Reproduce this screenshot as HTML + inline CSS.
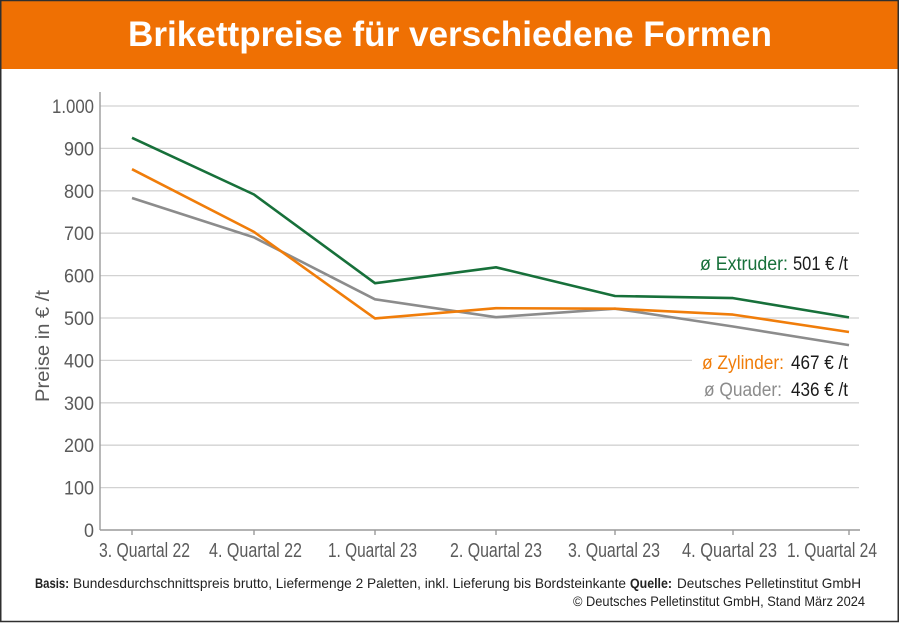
<!DOCTYPE html>
<html><head><meta charset="utf-8"><style>
html,body{margin:0;padding:0;background:#fff;}
svg{display:block;}
text{font-family:"Liberation Sans",sans-serif;}
</style></head><body>
<svg width="900" height="623" viewBox="0 0 900 623" xmlns="http://www.w3.org/2000/svg">
<rect x="0" y="0" width="900" height="623" fill="#fff"/>
<rect x="0" y="0" width="899" height="69" fill="#ef7003"/>
<rect x="0.75" y="0.5" width="897.5" height="621" fill="none" stroke="#2f2f2f" stroke-width="1.5"/>
<text x="128" y="46" font-size="35" font-weight="bold" fill="#fff" textLength="644" lengthAdjust="spacingAndGlyphs">Brikettpreise für verschiedene Formen</text>

<g stroke="#d2d2d2" stroke-width="1.3">
<line x1="100" y1="106" x2="859" y2="106"/>
<line x1="100" y1="148.4" x2="859" y2="148.4"/>
<line x1="100" y1="190.8" x2="859" y2="190.8"/>
<line x1="100" y1="233.2" x2="859" y2="233.2"/>
<line x1="100" y1="275.6" x2="859" y2="275.6"/>
<line x1="100" y1="318" x2="859" y2="318"/>
<line x1="100" y1="360.4" x2="692" y2="360.4"/>
<line x1="100" y1="402.8" x2="859" y2="402.8"/>
<line x1="100" y1="445.2" x2="859" y2="445.2"/>
<line x1="100" y1="487.6" x2="859" y2="487.6"/>
</g>
<g stroke="#9a9a9a" stroke-width="1.4">
<line x1="100" y1="92" x2="100" y2="530"/>
<line x1="100" y1="530" x2="860" y2="530"/>
<line x1="132" y1="530" x2="132" y2="535"/>
<line x1="254" y1="530" x2="254" y2="535"/>
<line x1="375" y1="530" x2="375" y2="535"/>
<line x1="496" y1="530" x2="496" y2="535"/>
<line x1="615" y1="530" x2="615" y2="535"/>
<line x1="733" y1="530" x2="733" y2="535"/>
<line x1="849" y1="530" x2="849" y2="535"/>
</g>

<g font-size="19" fill="#5a5a5a">
<text x="52" y="113" textLength="42" lengthAdjust="spacingAndGlyphs">1.000</text>
<text x="64" y="155.4" textLength="30" lengthAdjust="spacingAndGlyphs">900</text>
<text x="64" y="197.8" textLength="30" lengthAdjust="spacingAndGlyphs">800</text>
<text x="64" y="240.2" textLength="30" lengthAdjust="spacingAndGlyphs">700</text>
<text x="64" y="282.6" textLength="30" lengthAdjust="spacingAndGlyphs">600</text>
<text x="64" y="325" textLength="30" lengthAdjust="spacingAndGlyphs">500</text>
<text x="64" y="367.4" textLength="30" lengthAdjust="spacingAndGlyphs">400</text>
<text x="64" y="409.8" textLength="30" lengthAdjust="spacingAndGlyphs">300</text>
<text x="64" y="452.2" textLength="30" lengthAdjust="spacingAndGlyphs">200</text>
<text x="64" y="494.6" textLength="30" lengthAdjust="spacingAndGlyphs">100</text>
<text x="84" y="537" textLength="10" lengthAdjust="spacingAndGlyphs">0</text>
</g>
<text transform="translate(49,346) rotate(-90)" font-size="19" fill="#5a5a5a" text-anchor="middle" textLength="112" lengthAdjust="spacingAndGlyphs">Preise in € /t</text>

<g font-size="20" fill="#5a5a5a">
<text x="99" y="557" textLength="91" lengthAdjust="spacingAndGlyphs">3. Quartal 22</text>
<text x="209" y="557" textLength="93" lengthAdjust="spacingAndGlyphs">4. Quartal 22</text>
<text x="328" y="557" textLength="89" lengthAdjust="spacingAndGlyphs">1. Quartal 23</text>
<text x="450" y="557" textLength="92" lengthAdjust="spacingAndGlyphs">2. Quartal 23</text>
<text x="568" y="557" textLength="92" lengthAdjust="spacingAndGlyphs">3. Quartal 23</text>
<text x="682" y="557" textLength="95" lengthAdjust="spacingAndGlyphs">4. Quartal 23</text>
<text x="787" y="557" textLength="90" lengthAdjust="spacingAndGlyphs">1. Quartal 24</text>
</g>

<g fill="none" stroke-width="2.6" stroke-linejoin="round">
<polyline stroke="#8c8c8c" points="132,198 254,237.4 375,299.3 496,317.2 615,308.7 733,326.5 849,345.1"/>
<polyline stroke="#f07d0a" points="132,169.2 254,231.9 375,318.4 496,308.2 615,308.7 733,314.6 849,332"/>
<polyline stroke="#17703a" points="132,137.8 254,194.5 375,283.2 496,267.3 615,296 733,298.1 849,317.4"/>
</g>

<g font-size="19">
<text x="700" y="270" fill="#17703a" textLength="88" lengthAdjust="spacingAndGlyphs">ø Extruder:</text>
<text x="793" y="270" fill="#1a1a1a" textLength="55" lengthAdjust="spacingAndGlyphs">501 € /t</text>
<text x="702" y="369" fill="#f07d0a" textLength="82" lengthAdjust="spacingAndGlyphs">ø Zylinder:</text>
<text x="791" y="369" fill="#1a1a1a" textLength="57" lengthAdjust="spacingAndGlyphs">467 € /t</text>
<text x="704" y="396" fill="#8c8c8c" textLength="78" lengthAdjust="spacingAndGlyphs">ø Quader:</text>
<text x="791" y="396" fill="#1a1a1a" textLength="57" lengthAdjust="spacingAndGlyphs">436 € /t</text>
</g>

<g font-size="14" fill="#222">
<text x="35" y="588" font-weight="bold" textLength="34" lengthAdjust="spacingAndGlyphs">Basis:</text>
<text x="73" y="588" textLength="553" lengthAdjust="spacingAndGlyphs">Bundesdurchschnittspreis brutto, Liefermenge 2 Paletten, inkl. Lieferung bis Bordsteinkante</text>
<text x="630" y="588" font-weight="bold" textLength="42" lengthAdjust="spacingAndGlyphs">Quelle:</text>
<text x="677" y="588" textLength="184" lengthAdjust="spacingAndGlyphs">Deutsches Pelletinstitut GmbH</text>
<text x="573" y="606" textLength="292" lengthAdjust="spacingAndGlyphs">© Deutsches Pelletinstitut GmbH, Stand März 2024</text>
</g>
</svg>
</body></html>
